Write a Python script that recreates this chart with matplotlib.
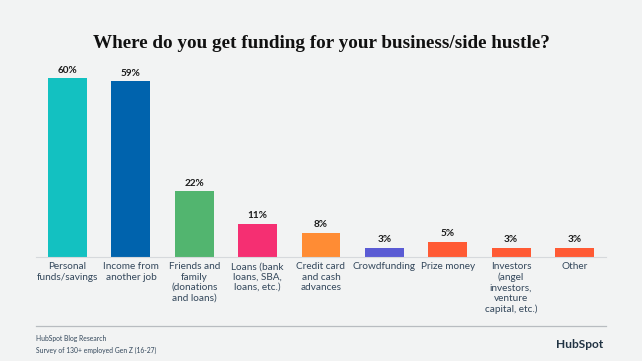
import matplotlib.pyplot as plt

# --- Data ---
categories = [
    "Personal\nfunds/savings",
    "Income from\nanother job",
    "Friends and\nfamily\n(donations\nand loans)",
    "Loans (bank\nloans, SBA,\nloans, etc.)",
    "Credit card\nand cash\nadvances",
    "Crowdfunding",
    "Prize money",
    "Investors\n(angel\ninvestors,\nventure\ncapital, etc.)",
    "Other",
]
values = [60, 59, 22, 11, 8, 3, 5, 3, 3]
colors = ["#13c1c1", "#0063ad", "#52b56f", "#f52f72", "#ff8c34",
          "#5a5bd4", "#ff5a34", "#ff5a34", "#ff5a34"]

BG = "#f2f3f3"
TEXT = "#33475b"

fig = plt.figure(figsize=(6.42, 3.61), dpi=100, facecolor=BG)
ax = fig.add_axes([0.056, 0.289, 0.888, 0.545], facecolor=BG)

x = range(len(values))
bars = ax.bar(x, values, width=0.615, color=colors, zorder=2)

for xi, v in zip(x, values):
    ax.text(xi, v + 1.2, f"{v}%", ha="center", va="bottom",
            fontsize=7.2, fontweight="bold", color="#1a1a1a", family="Lato")

ax.set_xlim(-0.5, len(values) - 0.5)
ax.set_ylim(0, 66.2)
ax.set_yticks([])
ax.set_xticks(list(x))
ax.set_xticklabels(categories, fontsize=7.2, color=TEXT, family="Lato",
                   linespacing=1.2, va="top")
ax.tick_params(axis="x", length=0, pad=4)
for s in ["top", "right", "left"]:
    ax.spines[s].set_visible(False)
ax.spines["bottom"].set_color("#d6d9dc")
ax.spines["bottom"].set_linewidth(0.8)

# Title
fig.text(0.5, 1 - 44 / 361, "Where do you get funding for your business/side hustle?",
         ha="center", va="center", fontsize=13.8, fontweight="bold",
         family="Liberation Serif", color="#111111")

# Footer
fig.add_artist(plt.Line2D([36 / 642, 606 / 642], [1 - 326 / 361] * 2,
                          color="#b8bcc0", linewidth=0.9))
fig.text(36 / 642, 1 - 338 / 361, "HubSpot Blog Research", fontsize=4.9,
         color=TEXT, va="center", family="Lato")
fig.text(36 / 642, 1 - 350 / 361, "Survey of 130+ employed Gen Z (16-27)",
         fontsize=4.9, color=TEXT, va="center", family="Lato")
fig.text(603 / 642, 1 - 345 / 361, "HubSpot", fontsize=8.6, fontweight="bold",
         color="#213343", ha="right", va="center", family="Lato")

fig.savefig("out.png", dpi=100, facecolor=BG)
